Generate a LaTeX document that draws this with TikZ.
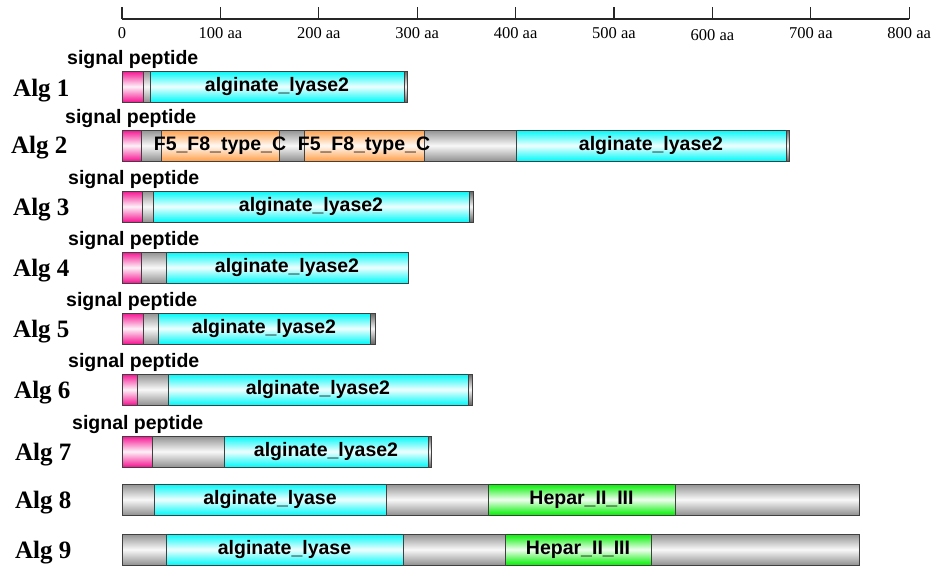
\documentclass[tikz,border=0pt]{standalone}
\usepackage{fontspec}
\setmainfont{Liberation Serif}
\setsansfont{Liberation Sans}
\definecolor{cpink}{RGB}{245,20,145}
\definecolor{ccyan}{RGB}{0,248,248}
\definecolor{cgray}{RGB}{145,145,145}
\definecolor{cdark}{RGB}{100,100,100}
\definecolor{corange}{RGB}{255,160,75}
\definecolor{cgreen}{RGB}{0,240,0}
\tikzset{
  segbox/.style={draw=black!75, line width=0.8pt, inner sep=0pt, outer sep=0pt,
    minimum height=31pt, anchor=north west,
    top color=#1, bottom color=#1, middle color=#1!6!white},
  domlabel/.style={font=\sffamily\bfseries\fontsize{19.5}{19.5}\selectfont, inner sep=0pt},
  siglabel/.style={font=\sffamily\bfseries\fontsize{19.5}{19.5}\selectfont, inner sep=0pt, anchor=base west},
  alglabel/.style={font=\bfseries\fontsize{25}{25}\selectfont, inner sep=0pt, anchor=base west},
  axlabel/.style={font=\fontsize{16.5}{16.5}\selectfont, inner sep=0pt, anchor=base},
  axline/.style={line width=1.2pt, black!85}
}
\newcommand\seg[5]{% name, x1, x2, ytop, colour
  \pgfmathsetmacro\segw{#3-#2}%
  \node[segbox=#5, minimum width=\segw pt] (#1) at (#2,#4) {};}
\newcommand\lab[2]{\node[domlabel] (#1-t) at (#1.center) {#2};}
\begin{document}
\begin{tikzpicture}[x=1pt,y=-1pt]
\useasboundingbox (0,0) rectangle (931,566);
% axis
\coordinate (ax0) at (122,19);
\coordinate (ax8) at (909,19);
\draw[axline] (ax0) -- (ax8);
\foreach \i in {0,...,8}{
  \pgfmathsetmacro\xx{122+98.4*\i}
  \coordinate (tk\i) at (\xx,7);
  \coordinate (tb\i) at (\xx,19);
  \draw[axline] (tk\i) -- (tb\i);
}
\foreach \i/\t in {0/0,1/100 aa,2/200 aa,3/300 aa,4/400 aa,5/500 aa,7/700 aa,8/800 aa}{
  \pgfmathsetmacro\xx{122+98.4*\i}
  \node[axlabel] (tl\i) at (\xx,38) {\t};
}
\pgfmathsetmacro\xx{122+98.4*6}
\node[axlabel] (tl6) at (\xx,40) {600 aa};

% Alg 1
\node[alglabel] (n1) at (13,96) {Alg 1};
\node[siglabel] (s1) at (67,64) {signal peptide};
\seg{a1p}{122}{143}{71}{cpink}
\seg{a1g}{143}{150}{71}{cgray}
\seg{a1c}{150}{404}{71}{ccyan}
\seg{a1e}{404}{407}{71}{cdark}
\lab{a1c}{alginate\_lyase2}

% Alg 2
\node[alglabel] (n2) at (11,153) {Alg 2};
\node[siglabel] (s2) at (65,123) {signal peptide};
\seg{a2p}{122}{141}{130}{cpink}
\seg{a2g1}{141}{161}{130}{cgray}
\seg{a2o1}{161}{279}{130}{corange}
\seg{a2g2}{279}{304}{130}{cgray}
\seg{a2o2}{304}{424}{130}{corange}
\seg{a2g3}{424}{516}{130}{cgray}
\seg{a2c}{516}{786}{130}{ccyan}
\seg{a2e}{786}{789}{130}{cdark}
\lab{a2o1}{F5\_F8\_type\_C}
\lab{a2o2}{F5\_F8\_type\_C}
\lab{a2c}{alginate\_lyase2}

% Alg 3
\node[alglabel] (n3) at (13,215) {Alg 3};
\node[siglabel] (s3) at (68,184) {signal peptide};
\seg{a3p}{122}{142}{191}{cpink}
\seg{a3g}{142}{153}{191}{cgray}
\seg{a3c}{153}{469}{191}{ccyan}
\seg{a3e}{469}{473}{191}{cdark}
\lab{a3c}{alginate\_lyase2}

% Alg 4
\node[alglabel] (n4) at (13,276) {Alg 4};
\node[siglabel] (s4) at (68,245) {signal peptide};
\seg{a4p}{122}{141}{252}{cpink}
\seg{a4g}{141}{166}{252}{cgray}
\seg{a4c}{166}{408}{252}{ccyan}
\lab{a4c}{alginate\_lyase2}

% Alg 5
\node[alglabel] (n5) at (13,337) {Alg 5};
\node[siglabel] (s5) at (66,306) {signal peptide};
\seg{a5p}{122}{143}{313}{cpink}
\seg{a5g}{143}{158}{313}{cgray}
\seg{a5c}{158}{370}{313}{ccyan}
\seg{a5e}{370}{375}{313}{cdark}
\lab{a5c}{alginate\_lyase2}

% Alg 6
\node[alglabel] (n6) at (14,398) {Alg 6};
\node[siglabel] (s6) at (68,367) {signal peptide};
\seg{a6p}{122}{137}{374}{cpink}
\seg{a6g}{137}{168}{374}{cgray}
\seg{a6c}{168}{468}{374}{ccyan}
\seg{a6e}{468}{472}{374}{cdark}
\lab{a6c}{alginate\_lyase2}

% Alg 7
\node[alglabel] (n7) at (15,460) {Alg 7};
\node[siglabel] (s7) at (72,429) {signal peptide};
\seg{a7p}{122}{152}{436}{cpink}
\seg{a7g}{152}{224}{436}{cgray}
\seg{a7c}{224}{428}{436}{ccyan}
\seg{a7e}{428}{431}{436}{cdark}
\lab{a7c}{alginate\_lyase2}

% Alg 8
\node[alglabel] (n8) at (15,508) {Alg 8};
\seg{a8g1}{122}{154}{484}{cgray}
\seg{a8c}{154}{386}{484}{ccyan}
\seg{a8g2}{386}{488}{484}{cgray}
\seg{a8h}{488}{675}{484}{cgreen}
\seg{a8g3}{675}{859}{484}{cgray}
\lab{a8c}{alginate\_lyase}
\lab{a8h}{Hepar\_II\_III}

% Alg 9
\node[alglabel] (n9) at (15,558) {Alg 9};
\seg{a9g1}{122}{166}{534}{cgray}
\seg{a9c}{166}{403}{534}{ccyan}
\seg{a9g2}{403}{505}{534}{cgray}
\seg{a9h}{505}{651}{534}{cgreen}
\seg{a9g3}{651}{859}{534}{cgray}
\lab{a9c}{alginate\_lyase}
\lab{a9h}{Hepar\_II\_III}
\end{tikzpicture}
\end{document}
